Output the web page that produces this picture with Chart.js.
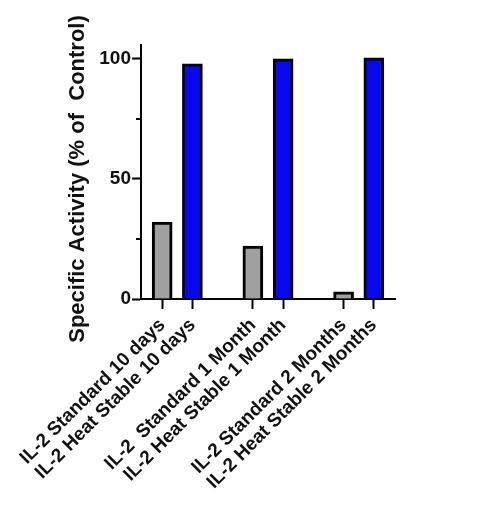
<!DOCTYPE html>
<html>
<head>
<meta charset="utf-8">
<script src="https://cdn.jsdelivr.net/npm/chart.js@4/dist/chart.umd.min.js"></script>
<style>
html,body{margin:0;padding:0;background:#fff;}
#wrap{width:477px;height:509px;}
</style>
</head>
<body>
<div id="wrap"><canvas id="c" width="477" height="509"></canvas></div>
<script>
// Data
const categories = [
  "IL-2 Standard 10 days",
  "IL-2 Heat Stable 10 days",
  "IL-2  Standard 1 Month",
  "IL-2 Heat Stable 1 Month",
  "IL-2 Standard 2 Months",
  "IL-2 Heat Stable 2 Months"
];
const categoryPositions = [0, 1, 3, 4, 6, 7];
const standardValues = [32, 22, 3];
const heatStableValues = [98, 100, 100.5];
const yTickValues = [0, 25, 50, 75, 100];
const yTickLabels = ["0", "", "50", "", "100"];
const yMinorTicks = [25, 75];
const yAxisTitle = "Specific Activity (% of  Control)";

const standardPositions = [categoryPositions[0], categoryPositions[2], categoryPositions[4]];
const heatPositions = [categoryPositions[1], categoryPositions[3], categoryPositions[5]];

const FONT = "'Liberation Sans', Arial, sans-serif";

const extrasPlugin = {
  id: 'extras',
  afterDraw(chart) {
    const y = chart.scales.y;
    const ctx = chart.ctx;
    ctx.save();
    ctx.strokeStyle = '#000';
    ctx.lineWidth = 2;
    yMinorTicks.forEach(v => {
      const py = Math.round(y.getPixelForValue(v));
      ctx.beginPath();
      ctx.moveTo(y.right - 5, py);
      ctx.lineTo(y.right, py);
      ctx.stroke();
    });
    // y-axis title, centred slightly below the plot centre as in the reference
    ctx.translate(y.left + 15, (y.top + y.bottom) / 2 + 7);
    ctx.rotate(-Math.PI / 2);
    ctx.fillStyle = '#111';
    ctx.font = "bold 22px " + FONT;
    ctx.textAlign = 'center';
    ctx.textBaseline = 'middle';
    ctx.fillText(yAxisTitle, 0, 0);
    ctx.restore();
  }
};

new Chart(document.getElementById('c'), {
  type: 'bar',
  data: {
    datasets: [
      {
        label: 'Standard',
        data: standardPositions.map((x, i) => ({x: x, y: standardValues[i]})),
        backgroundColor: '#a0a0a0',
        borderColor: '#000',
        borderWidth: 3,
        barThickness: 20,
        grouped: false
      },
      {
        label: 'Heat Stable',
        data: heatPositions.map((x, i) => ({x: x, y: heatStableValues[i]})),
        backgroundColor: '#0808f2',
        borderColor: '#000',
        borderWidth: 3,
        barThickness: 20,
        grouped: false
      }
    ]
  },
  options: {
    responsive: false,
    animation: false,
    layout: {padding: {left: 63, top: 45, right: 82, bottom: 0}},
    plugins: {legend: {display: false}, tooltip: {enabled: false}},
    scales: {
      x: {
        type: 'linear',
        offset: false,
        min: -0.7,
        max: 7.7,
        afterBuildTicks(scale) {
          scale.ticks = categoryPositions.map(v => ({value: v}));
        },
        afterFit(scale) { scale.height = 210; },
        border: {display: true, color: '#000', width: 2},
        grid: {drawOnChartArea: false, drawTicks: true, tickLength: 10, tickWidth: 2, tickColor: '#000', offset: false},
        ticks: {
          autoSkip: false,
          minRotation: 45,
          maxRotation: 45,
          padding: 5,
          color: '#111',
          font: {family: FONT, size: 19, weight: 'bold'},
          callback(value) {
            const i = categoryPositions.indexOf(value);
            return i >= 0 ? categories[i] : '';
          }
        }
      },
      y: {
        min: 0,
        max: 105.8,
        afterBuildTicks(scale) {
          scale.ticks = yTickValues.map(v => ({value: v}));
        },
        afterFit(scale) { scale.width = 78; },
        border: {display: true, color: '#000', width: 2},
        grid: {
          drawOnChartArea: false,
          drawTicks: true,
          tickLength: 9,
          tickWidth: 2,
          tickColor: (ctx) => (ctx.tick && yMinorTicks.includes(ctx.tick.value)) ? 'rgba(0,0,0,0)' : '#000'
        },
        ticks: {
          padding: 1,
          color: '#111',
          font: {family: FONT, size: 19, weight: 'bold'},
          callback(value) {
            const i = yTickValues.indexOf(value);
            return i >= 0 ? yTickLabels[i] : '';
          }
        },
        title: {display: false}
      }
    }
  },
  plugins: [extrasPlugin]
});
</script>
</body>
</html>
